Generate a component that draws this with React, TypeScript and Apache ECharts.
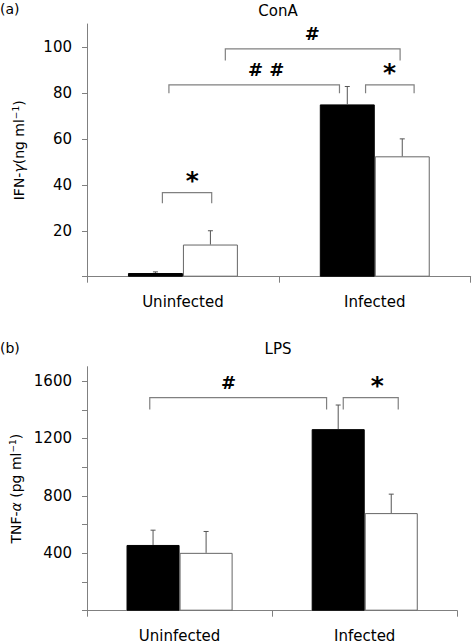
import React, { useEffect, useRef } from "react";
import * as echarts from "echarts";

// ---- data ----
const categories = ["Uninfected", "Infected"];

// Panel (a) ConA, IFN-gamma (ng/ml)
const conaBlack = [1.6, 75];
const conaBlackSd = [0.5, 7.8];
const conaWhite = [14, 52.4];
const conaWhiteSd = [6, 7.6];
const conaLabelTicks = [20, 40, 60, 80, 100];
const conaMinorTicks = [0, 20, 40, 60, 80, 100];

// Panel (b) LPS, TNF-alpha (pg/ml)
const lpsBlack = [458, 1265];
const lpsBlackSd = [103, 168];
const lpsWhite = [403, 680];
const lpsWhiteSd = [149, 132];
const lpsLabelTicks = [400, 800, 1200, 1600];
const lpsMinorTicks = [0, 200, 400, 600, 800, 1000, 1200, 1400, 1600];

// Significance brackets: [from, to, top, legEnd, labelX] in (category-unit x, data y)
const conaBrackets = [
  [0.393, 0.65, 36.6, 32.0, 0.549],
  [0.427, 1.316, 83.5, 79.9, 0.934],
  [1.452, 1.705, 83.5, 79.9, 1.577],
  [0.721, 1.632, 99.2, 94.1, 1.174],
];
const conaBracketLabels = ["*", "# #", "*", "#"];
const lpsBrackets = [
  [0.339, 1.294, 1485, 1401, 0.764],
  [1.384, 1.681, 1485, 1401, 1.568],
];
const lpsBracketLabels = ["#", "*"];

const FONT = "DejaVu Sans";
const GREY = "#808080";
const GAP = 0.427;

function errorSeries(values: number[], sd: number[], side: number, xIdx: number, yIdx: number) {
  return {
    type: "custom",
    xAxisIndex: xIdx,
    yAxisIndex: yIdx,
    z: 5,
    silent: true,
    encode: { x: 0, y: [1, 2] },
    data: values.map((v, i) => [i, v, v + sd[i]]),
    renderItem: (params: any, api: any) => {
      const idx = api.value(0);
      const base = api.coord([idx, api.value(1)]);
      const top = api.coord([idx, api.value(2)]);
      const band = api.size([1, 0])[0];
      const x = base[0] + (side * band * (1 - GAP)) / 4;
      return {
        type: "group",
        children: [
          { type: "line", shape: { x1: x, y1: base[1], x2: x, y2: top[1] }, style: { stroke: "#555", lineWidth: 1 } },
          { type: "line", shape: { x1: x - 2.5, y1: top[1], x2: x + 2.5, y2: top[1] }, style: { stroke: "#555", lineWidth: 1 } },
        ],
      };
    },
  };
}

function bracketSeries(rows: number[][], labels: string[], xIdx: number, yIdx: number) {
  return {
    type: "custom",
    xAxisIndex: xIdx,
    yAxisIndex: yIdx,
    z: 6,
    silent: true,
    encode: { x: [0, 1, 4], y: [2, 3] },
    data: rows,
    renderItem: (params: any, api: any) => {
      const a = api.coord([api.value(0), api.value(3)]);
      const b = api.coord([api.value(0), api.value(2)]);
      const c = api.coord([api.value(1), api.value(2)]);
      const d = api.coord([api.value(1), api.value(3)]);
      const l = api.coord([api.value(4), api.value(2)]);
      const label = labels[params.dataIndex];
      const star = label === "*";
      return {
        type: "group",
        children: [
          { type: "polyline", shape: { points: [a, b, c, d] }, style: { stroke: GREY, lineWidth: 1.2, fill: "none" } },
          {
            type: "text",
            x: l[0],
            y: l[1] - (star ? 12 : 15.5),
            style: {
              text: label,
              fontFamily: FONT,
              fontWeight: "bold",
              fontSize: star ? 25 : 18,
              fill: "#000",
              align: "center",
              verticalAlign: "middle",
            },
          },
        ],
      };
    },
  };
}

function yAxisBase(grid: number, max: number, labels: number[], ticks: number[], nameRich: string) {
  return {
    type: "value",
    gridIndex: grid,
    min: 0,
    max,
    splitLine: { show: false },
    axisLine: { show: true, lineStyle: { color: GREY, width: 1 } },
    axisTick: { show: true, length: 5, lineStyle: { color: GREY }, customValues: ticks },
    axisLabel: {
      customValues: labels,
      margin: 15,
      color: "#000",
      fontFamily: FONT,
      fontSize: 15,
      formatter: (v: number) => String(v),
    },
    name: nameRich,
    nameLocation: "middle",
    nameRotate: 90,
    nameGap: 61,
    nameTextStyle: {
      fontFamily: FONT,
      fontSize: 14,
      color: "#000",
      rich: {
        g: { fontFamily: FONT, fontSize: 14, fontStyle: "italic", color: "#000" },
        s: { fontFamily: FONT, fontSize: 9, color: "#000", verticalAlign: "top", padding: [0, 0, 6, 0] },
      },
    },
  };
}

function catAxis(grid: number) {
  return {
    type: "category",
    gridIndex: grid,
    data: categories,
    boundaryGap: true,
    axisLine: { show: true, lineStyle: { color: GREY, width: 1 } },
    axisTick: { show: true, length: 6, alignWithLabel: false, lineStyle: { color: GREY } },
    axisLabel: { margin: 18, color: "#000", fontFamily: FONT, fontSize: 15 },
  };
}

export default function App() {
  const ref = useRef<HTMLDivElement>(null);
  useEffect(() => {
    document.body.style.margin = "0";
    const chart = echarts.init(ref.current!, null, { renderer: "svg" });
    chart.setOption({
      animation: false,
      backgroundColor: "#fff",
      textStyle: { fontFamily: FONT },
      grid: [
        { left: 87, right: 1.3, top: 24, bottom: 644 - 276.7 },
        { left: 87, right: 14.7, top: 366.7, bottom: 644 - 610.7 },
      ],
      xAxis: [
        catAxis(0),
        catAxis(1),
        { type: "value", gridIndex: 0, min: 0, max: 2, show: false },
        { type: "value", gridIndex: 1, min: 0, max: 2, show: false },
      ],
      yAxis: [
        yAxisBase(0, 110, conaLabelTicks, conaMinorTicks, "IFN-{g|γ}(ng ml{s|−1})"),
        yAxisBase(1, 1700, lpsLabelTicks, lpsMinorTicks, "TNF-{g|α} (pg ml{s|−1})"),
      ],
      graphic: [
        { type: "text", left: 0, top: 2, style: { text: "(a)", fontFamily: FONT, fontSize: 14, fill: "#000" } },
        { type: "text", x: 278, y: 11, style: { text: "ConA", fontFamily: FONT, fontSize: 15, fill: "#000", align: "center", verticalAlign: "middle" } },
        { type: "text", left: 0, top: 341, style: { text: "(b)", fontFamily: FONT, fontSize: 14, fill: "#000" } },
        { type: "text", x: 278, y: 349, style: { text: "LPS", fontFamily: FONT, fontSize: 15, fill: "#000", align: "center", verticalAlign: "middle" } },
      ],
      series: [
        {
          type: "bar", xAxisIndex: 0, yAxisIndex: 0, data: conaBlack, barGap: "0%", barCategoryGap: "42.7%",
          itemStyle: { color: "#000", borderColor: "#000", borderWidth: 1 },
        },
        {
          type: "bar", xAxisIndex: 0, yAxisIndex: 0, data: conaWhite, barGap: "0%", barCategoryGap: "42.7%",
          itemStyle: { color: "#fff", borderColor: "#666", borderWidth: 1 },
        },
        {
          type: "bar", xAxisIndex: 1, yAxisIndex: 1, data: lpsBlack, barGap: "0%", barCategoryGap: "42.7%",
          itemStyle: { color: "#000", borderColor: "#000", borderWidth: 1 },
        },
        {
          type: "bar", xAxisIndex: 1, yAxisIndex: 1, data: lpsWhite, barGap: "0%", barCategoryGap: "42.7%",
          itemStyle: { color: "#fff", borderColor: "#666", borderWidth: 1 },
        },
        errorSeries(conaBlack, conaBlackSd, -1, 0, 0),
        errorSeries(conaWhite, conaWhiteSd, 1, 0, 0),
        errorSeries(lpsBlack, lpsBlackSd, -1, 1, 1),
        errorSeries(lpsWhite, lpsWhiteSd, 1, 1, 1),
        bracketSeries(conaBrackets, conaBracketLabels, 2, 0),
        bracketSeries(lpsBrackets, lpsBracketLabels, 3, 1),
      ],
    });
    return () => chart.dispose();
  }, []);
  return <div ref={ref} style={{ width: 472, height: 644 }} />;
}
